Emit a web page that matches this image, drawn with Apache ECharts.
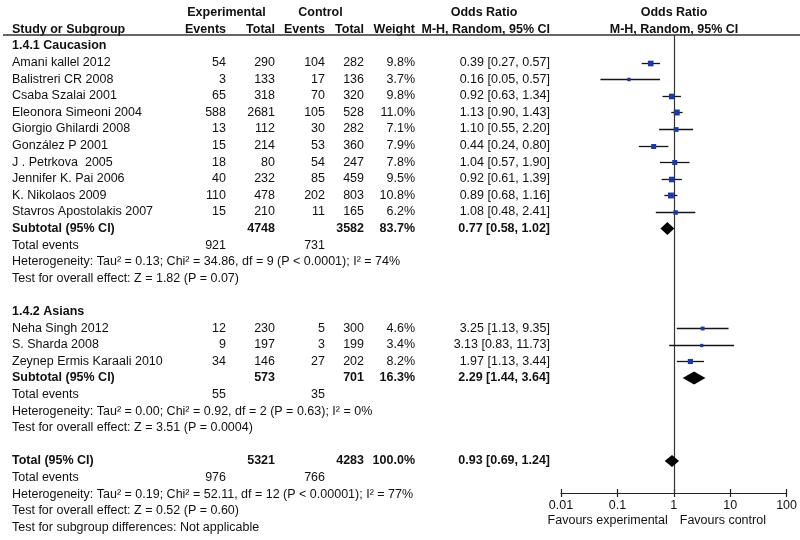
<!DOCTYPE html>
<html>
<head>
<meta charset="utf-8">
<script src="https://cdn.jsdelivr.net/npm/echarts@6/dist/echarts.min.js"></script>
<style>html,body{margin:0;padding:0;background:#fff;}#chart{width:800px;height:540px;}</style>
</head>
<body>
<div id="chart"></div>
<script>
// ---------- DATA ----------
const group1Title = '1.4.1 Caucasion';
const studies1 = ['Amani kallel 2012','Balistreri CR 2008','Csaba Szalai 2001','Eleonora Simeoni 2004','Giorgio Ghilardi 2008','González P 2001','J . Petrkova  2005','Jennifer K. Pai 2006','K. Nikolaos 2009','Stavros Apostolakis 2007'];
const expEvents1 = [54, 3, 65, 588, 13, 15, 18, 40, 110, 15];
const expTotal1  = [290, 133, 318, 2681, 112, 214, 80, 232, 478, 210];
const ctrlEvents1 = [104, 17, 70, 105, 30, 53, 54, 85, 202, 11];
const ctrlTotal1  = [282, 136, 320, 528, 282, 360, 247, 459, 803, 165];
const weight1 = [9.8, 3.7, 9.8, 11.0, 7.1, 7.9, 7.8, 9.5, 10.8, 6.2];
const or1 = [0.39, 0.16, 0.92, 1.13, 1.10, 0.44, 1.04, 0.92, 0.89, 1.08];
const lo1 = [0.27, 0.05, 0.63, 0.90, 0.55, 0.24, 0.57, 0.61, 0.68, 0.48];
const hi1 = [0.57, 0.57, 1.34, 1.43, 2.20, 0.80, 1.90, 1.39, 1.16, 2.41];
const sub1 = [4748, 3582, 83.7, 0.77, 0.58, 1.02];      // expTotal, ctrlTotal, weight, OR, lo, hi
const sub1Events = [921, 731];
const sub1Het = 'Heterogeneity: Tau² = 0.13; Chi² = 34.86, df = 9 (P < 0.0001); I² = 74%';
const sub1Test = 'Test for overall effect: Z = 1.82 (P = 0.07)';

const group2Title = '1.4.2 Asians';
const studies2 = ['Neha Singh 2012','S. Sharda 2008','Zeynep Ermis Karaali 2010'];
const expEvents2 = [12, 9, 34];
const expTotal2  = [230, 197, 146];
const ctrlEvents2 = [5, 3, 27];
const ctrlTotal2  = [300, 199, 202];
const weight2 = [4.6, 3.4, 8.2];
const or2 = [3.25, 3.13, 1.97];
const lo2 = [1.13, 0.83, 1.13];
const hi2 = [9.35, 11.73, 3.44];
const sub2 = [573, 701, 16.3, 2.29, 1.44, 3.64];
const sub2Events = [55, 35];
const sub2Het = 'Heterogeneity: Tau² = 0.00; Chi² = 0.92, df = 2 (P = 0.63); I² = 0%';
const sub2Test = 'Test for overall effect: Z = 3.51 (P = 0.0004)';

const total = [5321, 4283, 100.0, 0.93, 0.69, 1.24];
const totalEvents = [976, 766];
const totalHet = 'Heterogeneity: Tau² = 0.19; Chi² = 52.11, df = 12 (P < 0.00001); I² = 77%';
const totalTest = 'Test for overall effect: Z = 0.52 (P = 0.60)';
const subgroupTest = 'Test for subgroup differences: Not applicable';

const tickValues = [0.01, 0.1, 1, 10, 100];
const tickLabels = ['0.01', '0.1', '1', '10', '100'];
const favourLeft = 'Favours experimental';
const favourRight = 'Favours control';

// ---------- LAYOUT ----------
const W = 800, H = 540;
const rowH = 16.6, row0 = 46;
const plotTop = 35, plotBottom = 493, plotLeft = 561, plotRight = 790;
const FONT = '"Liberation Sans", Arial, sans-serif';
const FS = 12.5;
const cols = {
  name:  {x: 12,  align: 'left'},
  expE:  {x: 226, align: 'right'},
  expT:  {x: 275, align: 'right'},
  ctlE:  {x: 325, align: 'right'},
  ctlT:  {x: 364, align: 'right'},
  wt:    {x: 415, align: 'right'},
  or:    {x: 550, align: 'right'},
  gExp:  {x: 226.5, align: 'center'},
  gCtl:  {x: 320.5, align: 'center'},
  gOr:   {x: 484, align: 'center'},
  gPlot: {x: 674, align: 'center'}
};

const cells = [];
function cell(col, row, text, bold) { cells.push({col, row, text: String(text), bold: !!bold}); }
const fmtW = w => w.toFixed(1) + '%';
const fmtOR = (o, l, h) => o.toFixed(2) + ' [' + l.toFixed(2) + ', ' + h.toFixed(2) + ']';

// headers
cell('gExp', -2, 'Experimental', true);
cell('gCtl', -2, 'Control', true);
cell('gOr', -2, 'Odds Ratio', true);
cell('gPlot', -2, 'Odds Ratio', true);
cell('name', -1, 'Study or Subgroup', true);
cell('expE', -1, 'Events', true);
cell('expT', -1, 'Total', true);
cell('ctlE', -1, 'Events', true);
cell('ctlT', -1, 'Total', true);
cell('wt', -1, 'Weight', true);
cell('or', -1, 'M-H, Random, 95% CI', true);
cell('gPlot', -1, 'M-H, Random, 95% CI', true);

const studyPts = [];
const diamonds = [];
function addGroup(startRow, title, names, eE, eT, cE, cT, w, o, l, h, sub, subEv, het, test) {
  let r = startRow;
  cell('name', r, title, true); r++;
  names.forEach((n, i) => {
    cell('name', r, n); cell('expE', r, eE[i]); cell('expT', r, eT[i]);
    cell('ctlE', r, cE[i]); cell('ctlT', r, cT[i]); cell('wt', r, fmtW(w[i]));
    cell('or', r, fmtOR(o[i], l[i], h[i]));
    studyPts.push([o[i], l[i], h[i], r, w[i]]);
    r++;
  });
  cell('name', r, 'Subtotal (95% CI)', true);
  cell('expT', r, sub[0], true); cell('ctlT', r, sub[1], true);
  cell('wt', r, fmtW(sub[2]), true); cell('or', r, fmtOR(sub[3], sub[4], sub[5]), true);
  diamonds.push([sub[3], sub[4], sub[5], r, 6.5]);
  r++;
  cell('name', r, 'Total events'); cell('expE', r, subEv[0]); cell('ctlE', r, subEv[1]); r++;
  cell('name', r, het); r++;
  cell('name', r, test); r++;
  return r + 1;
}
let nr = addGroup(0, group1Title, studies1, expEvents1, expTotal1, ctrlEvents1, ctrlTotal1, weight1, or1, lo1, hi1, sub1, sub1Events, sub1Het, sub1Test);
nr = addGroup(nr, group2Title, studies2, expEvents2, expTotal2, ctrlEvents2, ctrlTotal2, weight2, or2, lo2, hi2, sub2, sub2Events, sub2Het, sub2Test);
cell('name', nr, 'Total (95% CI)', true);
cell('expT', nr, total[0], true); cell('ctlT', nr, total[1], true);
cell('wt', nr, fmtW(total[2]), true); cell('or', nr, fmtOR(total[3], total[4], total[5]), true);
diamonds.push([total[3], total[4], total[5], nr, 6]);
nr++;
cell('name', nr, 'Total events'); cell('expE', nr, totalEvents[0]); cell('ctlE', nr, totalEvents[1]); nr++;
cell('name', nr, totalHet); nr++;
cell('name', nr, totalTest); nr++;
cell('name', nr, subgroupTest); nr++;

const TXT = '#111';
const chart = echarts.init(document.getElementById('chart'), null, {renderer: 'canvas'});
chart.setOption({
  backgroundColor: '#fff',
  animation: false,
  grid: [
    {left: 0, right: 0, top: 0, bottom: 0},
    {left: plotLeft, right: W - plotRight, top: plotTop, bottom: H - plotBottom}
  ],
  xAxis: [
    {gridIndex: 0, type: 'value', min: 0, max: W, show: false},
    {gridIndex: 1, type: 'log', logBase: 10, min: 0.01, max: 100, splitNumber: 4, position: 'bottom',
     axisLine: {show: true, onZero: false, lineStyle: {color: '#222', width: 1.2}},
     axisTick: {show: true, inside: true, length: 4, lineStyle: {color: '#222', width: 1.2}},
     splitLine: {show: false}, minorTick: {show: false},
     axisLabel: {show: true, margin: 6, fontSize: FS, fontFamily: FONT, color: TXT,
       formatter: function (v) {
         let best = 0, bd = Infinity;
         tickValues.forEach((t, i) => { const d = Math.abs(Math.log10(t) - Math.log10(v)); if (d < bd) { bd = d; best = i; } });
         return tickLabels[best];
       }}},
    {gridIndex: 1, type: 'log', logBase: 10, min: 0.01, max: 100, splitNumber: 4, position: 'bottom',
     axisLine: {show: false, onZero: false},
     axisTick: {show: true, inside: false, length: 4, lineStyle: {color: '#222', width: 1.2}},
     splitLine: {show: false}, axisLabel: {show: false}}
  ],
  yAxis: [
    {gridIndex: 0, type: 'value', inverse: true, min: -row0 / rowH, max: (H - row0) / rowH, show: false},
    {gridIndex: 1, type: 'value', inverse: true, min: (plotTop - row0) / rowH, max: (plotBottom - row0) / rowH, show: false}
  ],
  graphic: [
    {type: 'line', z: 10, shape: {x1: 3, y1: 35, x2: W, y2: 35}, style: {stroke: '#333', lineWidth: 1.5}}
  ],
  series: [
    {
      type: 'custom', xAxisIndex: 0, yAxisIndex: 0, silent: true,
      data: cells.map(c => [cols[c.col].x, c.row]),
      renderItem: function (params, api) {
        const c = cells[params.dataIndex];
        const p = api.coord([api.value(0), api.value(1)]);
        return {type: 'text', x: p[0], y: p[1],
          style: {text: c.text, textAlign: cols[c.col].align, textVerticalAlign: 'middle',
            align: cols[c.col].align, verticalAlign: 'middle',
            font: (c.bold ? 'bold ' : '') + FS + 'px ' + FONT, fill: TXT}};
      }
    },
    {
      // vertical line of no effect
      type: 'custom', xAxisIndex: 1, yAxisIndex: 1, silent: true, z: 1,
      data: [[1]],
      renderItem: function (params, api) {
        const cs = params.coordSys;
        const x = Math.round(api.coord([api.value(0), 0])[0]) + 0.5;
        return {type: 'line', shape: {x1: x, y1: cs.y, x2: x, y2: cs.y + cs.height},
          style: {stroke: '#333', lineWidth: 1.2}};
      }
    },
    {
      // study CIs and squares
      type: 'custom', xAxisIndex: 1, yAxisIndex: 1, silent: true, z: 3,
      data: studyPts,
      renderItem: function (params, api) {
        const r = api.value(3);
        const c = api.coord([api.value(0), r]);
        const l = api.coord([api.value(1), r]);
        const h = api.coord([api.value(2), r]);
        const y = Math.round(c[1]) + 0.5;
        const s = Math.sqrt(api.value(4)) * 1.8;
        return {type: 'group', children: [
          {type: 'line', shape: {x1: l[0], y1: y, x2: h[0], y2: y}, style: {stroke: '#151515', lineWidth: 1.3}},
          {type: 'rect', shape: {x: c[0] - s / 2, y: y - s / 2, width: s, height: s}, style: {fill: '#1e3b9c'}}
        ]};
      }
    },
    {
      // pooled diamonds
      type: 'custom', xAxisIndex: 1, yAxisIndex: 1, silent: true, z: 3,
      data: diamonds,
      renderItem: function (params, api) {
        const r = api.value(3);
        const hh = api.value(4);
        const c = api.coord([api.value(0), r]);
        const l = api.coord([api.value(1), r]);
        const h = api.coord([api.value(2), r]);
        return {type: 'polygon', shape: {points: [[l[0], c[1]], [c[0], c[1] - hh], [h[0], c[1]], [c[0], c[1] + hh]]},
          style: {fill: '#000'}};
      }
    },
    {
      // favours labels
      type: 'custom', xAxisIndex: 1, yAxisIndex: 1, silent: true,
      data: [[1]],
      renderItem: function (params, api) {
        const cs = params.coordSys;
        const x = api.coord([api.value(0), 0])[0];
        const y = cs.y + cs.height + 28;
        return {type: 'group', children: [
          {type: 'text', x: x - 6, y: y, style: {text: favourLeft, textAlign: 'right', align: 'right', textVerticalAlign: 'middle', verticalAlign: 'middle', font: FS + 'px ' + FONT, fill: TXT}},
          {type: 'text', x: x + 6, y: y, style: {text: favourRight, textAlign: 'left', align: 'left', textVerticalAlign: 'middle', verticalAlign: 'middle', font: FS + 'px ' + FONT, fill: TXT}}
        ]};
      }
    }
  ]
});
</script>
</body>
</html>
